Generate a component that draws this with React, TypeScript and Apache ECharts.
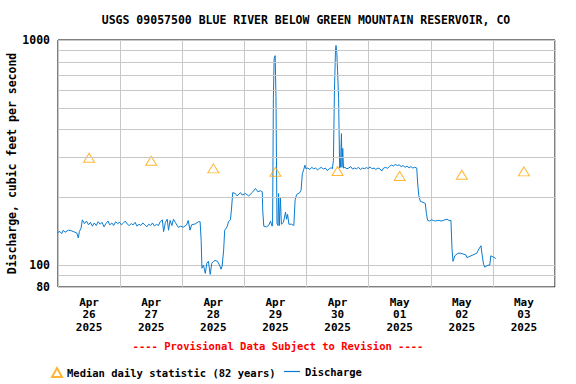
import React, { useEffect, useRef } from "react";
import * as echarts from "echarts";

const TITLE = "USGS 09057500 BLUE RIVER BELOW GREEN MOUNTAIN RESERVOIR, CO";
const Y_NAME = "Discharge, cubic feet per second";
const PROVISIONAL = "---- Provisional Data Subject to Revision ----";
const MEDIAN_NAME = "Median daily statistic (82 years)";
const DISCHARGE_NAME = "Discharge";

// day labels (category axis centred on each day, starting Apr 26 2025 00:00)
const dayLabels = [
  "Apr\n26\n2025", "Apr\n27\n2025", "Apr\n28\n2025", "Apr\n29\n2025",
  "Apr\n30\n2025", "May\n01\n2025", "May\n02\n2025", "May\n03\n2025",
];

// median daily statistic at noon of each day (hours since Apr 26 00:00)
const medianHours = [12, 36, 60, 84, 108, 132, 156, 180];
const medianValues = [300, 291, 269, 260, 262, 249, 252, 261];

// extra log grid lines (cfs)
const yGridValues = [90, 200, 300, 400, 500, 600, 700, 800, 900];

// discharge: hours since Apr 26 00:00, cfs
const dischargeHours = [
  0, 0.77, 1.43, 2.05, 2.71, 3.99, 5.3, 6.58, 7.24, 7.86, 8.25, 8.9, 9.41,
  10.2, 11.0, 11.8, 12.5, 13.3, 14.0, 14.8, 15.5, 16.3, 17.0, 17.8, 18.5, 19.3, 20.0,
  20.8, 21.5, 22.3, 23.0, 23.8, 24.5, 25.3, 26.0, 26.8, 27.5, 28.3, 29.0, 29.8, 30.5,
  31.3, 32.0, 32.8, 33.5, 34.3, 35.0, 35.8, 36.5, 37.3, 38.0, 38.8, 39.5, 40.3, 40.8,
  41.5, 42.2, 42.7, 43.3, 44.0, 44.6, 45.3, 46.5, 47.2, 48.4, 49.7, 50.3, 51.0, 51.6,
  53.0, 54.3, 54.9, 55.3, 55.6, 56.2, 56.9, 57.5, 58.1, 58.8, 59.4, 60.1, 60.7, 61.6,
  62.4, 63.0, 63.4, 64.0, 64.4, 65.3, 65.9, 66.6, 67.0, 67.5, 68.5, 69.2, 70.5, 71.1,
  72.4, 73.7, 75.0, 76.3, 77.2, 78.2, 78.9, 79.1, 79.5, 80.5, 81.4, 82.1, 82.7, 82.9,
  83.2, 83.5, 83.9, 84.2, 84.6, 85.0, 85.2, 85.5, 85.9, 86.3, 87.1, 87.9, 88.3, 88.7,
  89.2, 90.2, 91.1, 91.6, 92.2, 93.4, 93.9, 94.4, 94.9, 95.4, 95.8,
  96.5, 97.3, 98.0, 98.8, 99.5, 100.3, 101.0, 101.8, 102.5, 103.3, 104.0, 104.8, 105.5, 106.0,
  106.4, 106.8, 107.2, 107.4, 107.7, 108.0, 108.4, 108.8, 109.1, 109.5, 109.7, 110.0, 110.3,
  110.8, 111.6, 112.3, 113.1, 113.8, 114.6, 115.3, 116.1, 116.8, 117.6, 118.3, 119.1, 119.8,
  120.6, 121.3, 122.1, 122.8, 123.6, 124.3, 125.1, 125.8, 126.6, 127.3, 128.1, 128.8, 129.6,
  130.3, 131.1, 131.8, 132.6, 133.3, 134.1, 134.8, 135.6, 136.3, 137.1, 137.8, 138.6,
  138.9, 139.4, 140.0, 140.6, 141.9, 142.3, 142.8,
  143.5, 144.3, 145.0, 145.8, 146.5, 147.3, 148.0, 148.8, 149.5, 150.3, 151.0, 151.8,
  152.2, 152.6, 153.3, 154.5, 155.6, 157.6, 158.0, 158.7, 160.3, 161.8, 162.6, 163.4,
  163.8, 164.4, 164.9, 166.1, 166.8, 167.2, 168.0, 169.1,
];
const dischargeValues = [
  140, 141, 138, 143, 140, 143, 142, 140, 139, 132, 141, 146, 159,
  153, 157, 151, 155, 149, 154, 150, 156, 152, 155, 148, 153, 157, 151,
  154, 150, 156, 153, 155, 151, 154, 157, 152, 150, 153, 151, 155, 149,
  152, 150, 154, 151, 148, 152, 150, 154, 149, 152, 150, 156, 159, 141,
  155, 160, 143, 158, 150, 160, 155, 147, 149, 147.5, 151, 158, 143, 151,
  152.5, 156, 156, 129, 97, 100, 92, 102, 104, 91, 102, 104, 105, 104,
  100, 96, 99, 117, 143, 148, 156, 159, 176, 210, 208, 203, 210, 205,
  208, 203, 210, 219, 212, 214, 212, 174, 149, 148, 150, 157, 149, 151,
  550, 830, 852, 560, 153, 150, 208, 150, 200, 152, 155, 172, 160, 168,
  152, 152, 150, 195, 206, 210, 215, 255, 265, 278, 268,
  270, 266, 272, 268, 270, 265, 269, 272, 267, 270, 263, 268, 271, 268,
  292, 600, 900, 946, 880, 730, 550, 270, 272, 384, 272, 330, 270,
  272, 268, 270, 274, 267, 270, 268, 272, 266, 270, 268, 271, 269,
  273, 268, 270, 266, 270, 268, 262, 270, 272, 269, 275, 278, 276,
  280, 277, 279, 274, 277, 272, 275, 271, 274, 270, 272, 270,
  234, 203, 192, 191, 188, 170, 158,
  157, 159, 158, 157, 158, 158, 157, 158, 159, 160, 158, 158,
  119, 104, 110, 113, 113, 111, 108, 109, 111, 113, 118, 122,
  112, 101, 98, 100, 100, 110, 109, 107,
];

const FONT = "DejaVu Sans Mono";
const LINE_COLOR = "#0a7bd0";

export default function App() {
  const ref = useRef<HTMLDivElement>(null);
  useEffect(() => {
    if (!ref.current) return;
    const chart = echarts.init(ref.current, undefined, { renderer: "svg" });
    const discharge = dischargeHours.map((h, i) => [h, dischargeValues[i]]);
    const medians = medianHours.map((h, i) => [h, medianValues[i]]);
    chart.setOption({
      animation: false,
      backgroundColor: "#ffffff",
      textStyle: { fontFamily: FONT },
      grid: {
        left: 58, top: 40, width: 497, height: 247,
        outerBoundsMode: "none", containLabel: false,
        show: true, borderColor: "#000", borderWidth: 1, backgroundColor: "transparent",
      },
      graphic: [
        {
          type: "text", x: 306, y: 20,
          style: {
            text: TITLE, fill: "#000", font: `bold 11.5px "${FONT}"`,
            textAlign: "center", textVerticalAlign: "middle",
          },
        },
        {
          type: "text", x: 278, y: 346,
          style: {
            text: PROVISIONAL, fill: "#ff0000", font: `bold 10.5px "${FONT}"`,
            textAlign: "center", textVerticalAlign: "middle",
          },
        },
      ],
      legend: [
        {
          data: [MEDIAN_NAME], left: 51, top: 367, padding: 0,
          itemWidth: 10, itemHeight: 9,
          textStyle: { fontFamily: FONT, fontWeight: "bold", fontSize: 10.5, color: "#000" },
        },
        {
          data: [{ name: DISCHARGE_NAME, icon: "rect" }], left: 284, top: 366, padding: 0,
          itemWidth: 16, itemHeight: 1.2,
          itemStyle: { color: LINE_COLOR, borderWidth: 0 },
          textStyle: { fontFamily: FONT, fontWeight: "bold", fontSize: 10.5, color: "#000" },
        },
      ],
      xAxis: [
        {
          type: "value", min: 0, max: 192, interval: 24,
          axisLine: { show: false }, axisTick: { show: false }, axisLabel: { show: false },
          splitLine: { show: true, lineStyle: { color: "#c8c8c8", width: 1 } },
        },
        {
          type: "category", data: dayLabels, boundaryGap: true, position: "bottom",
          axisLine: { show: false }, axisTick: { show: false },
          splitLine: { show: false },
          axisLabel: {
            margin: 9, interval: 0, color: "#000", fontFamily: FONT, fontWeight: "bold",
            fontSize: 11, lineHeight: 12.5,
          },
        },
      ],
      yAxis: {
        type: "log", logBase: 10, min: 80, max: 1000,
        name: Y_NAME, nameLocation: "middle", nameRotate: 90, nameGap: 40,
        nameMoveOverlap: false,
        nameTextStyle: { fontFamily: FONT, fontWeight: "bold", fontSize: 11.5, color: "#000" },
        axisLine: { show: false }, axisTick: { show: false },
        axisLabel: {
          margin: 8, color: "#000", fontFamily: FONT, fontWeight: "bold", fontSize: 11.5,
          formatter: (v: number) => String(Math.round(v)),
        },
        splitLine: { show: true, lineStyle: { color: "#c8c8c8", width: 1 } },
      },
      series: [
        {
          type: "line", data: [], xAxisIndex: 0, z: 1, silent: true,
          markLine: {
            silent: true, symbol: ["none", "none"], label: { show: false },
            lineStyle: { color: "#c8c8c8", type: "solid", width: 1 },
            emphasis: { disabled: true },
            data: yGridValues.map((v) => ({ yAxis: v })),
          },
        },
        {
          name: DISCHARGE_NAME, type: "line", data: discharge, xAxisIndex: 0, z: 3,
          showSymbol: false, symbol: "none",
          lineStyle: { color: LINE_COLOR, width: 1 }, itemStyle: { color: LINE_COLOR },
        },
        {
          name: MEDIAN_NAME, type: "scatter", data: medians, xAxisIndex: 0, z: 4,
          symbol: "triangle", symbolSize: [11, 9],
          itemStyle: { color: "rgba(0,0,0,0)", borderColor: "#ffa500", borderWidth: 1 },
        },
      ],
    });
    return () => chart.dispose();
  }, []);
  return (
    <div
      ref={ref}
      style={{ position: "fixed", left: 0, top: 0, width: 576, height: 384, background: "#fff" }}
    />
  );
}
